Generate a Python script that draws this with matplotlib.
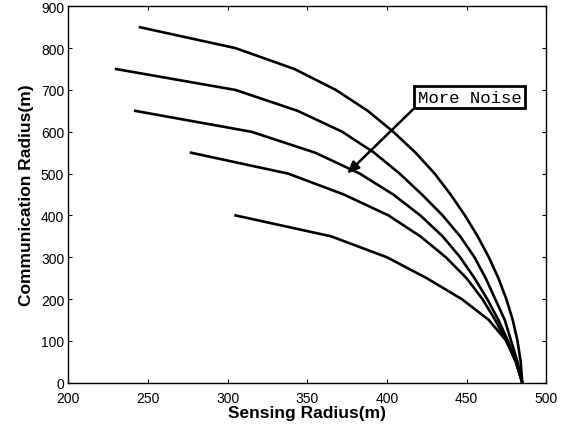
import matplotlib
matplotlib.use("Agg")
import matplotlib.pyplot as plt

# communication radius levels (m), shared by all curves
rc_levels = [850, 800, 750, 700, 650, 600, 550, 500, 450, 400,
             350, 300, 250, 200, 150, 100, 50, 0]

# sensing radius (m) for each noise level, from least to most noise
rs_1 = [245, 305, 342, 368, 388, 404, 418, 430, 440, 449,
        457, 464, 470, 475, 479, 482, 484, 485]
rs_2 = [230, 305, 344, 372, 392, 408, 422, 435,
        446, 455, 462, 468, 474, 478, 482, 485]
rs_3 = [242, 315, 355, 383, 404, 421,
        435, 446, 455, 463, 470, 476, 481, 485]
rs_4 = [277, 338, 373, 401,
        421, 437, 450, 460, 468, 475, 481, 485]
rs_5 = [305, 365, 400, 425, 447, 464, 475, 481, 485]

curves = [rs_1, rs_2, rs_3, rs_4, rs_5]

fig = plt.figure(figsize=(5.7, 4.31), dpi=100)
ax = fig.add_axes([0.1199, 0.1097, 0.8383, 0.8733])

for rs in curves:
    ax.plot(rs, rc_levels[-len(rs):], color='black', lw=1.9,
            solid_joinstyle='round')

ax.set_xlim(200, 500)
ax.set_ylim(0, 900)
ax.set_xticks(range(200, 501, 50))
ax.set_yticks(range(0, 901, 100))
ax.tick_params(direction='in', length=3.2, width=0.8, top=True, right=True,
               labelsize=10, colors='black')
ax.tick_params(axis='x', pad=6)
ax.tick_params(axis='y', pad=3)
for lab in ax.get_xticklabels() + ax.get_yticklabels():
    lab.set_family('Liberation Sans')
for sp in ax.spines.values():
    sp.set_linewidth(1.0)

ax.set_xlabel('Sensing Radius(m)', fontsize=12.5, fontweight='bold',
              family='Liberation Sans', labelpad=0)
ax.set_ylabel('Communication Radius(m)', fontsize=12.5, fontweight='bold',
              family='Liberation Sans', labelpad=5)

# annotation box with arrow pointing toward the noisier curves
ax.annotate('', xy=(375, 500), xytext=(416.5, 654),
            arrowprops=dict(arrowstyle='-|>,head_length=0.7,head_width=0.3',
                            color='black', lw=1.8, shrinkA=0, shrinkB=0))
ax.text(452, 683, 'More Noise', ha='center', va='center', fontsize=12.5,
        family='Liberation Mono',
        bbox=dict(boxstyle='square,pad=0.2', fc='white', ec='black', lw=2))

fig.savefig('out.png', dpi=100)
